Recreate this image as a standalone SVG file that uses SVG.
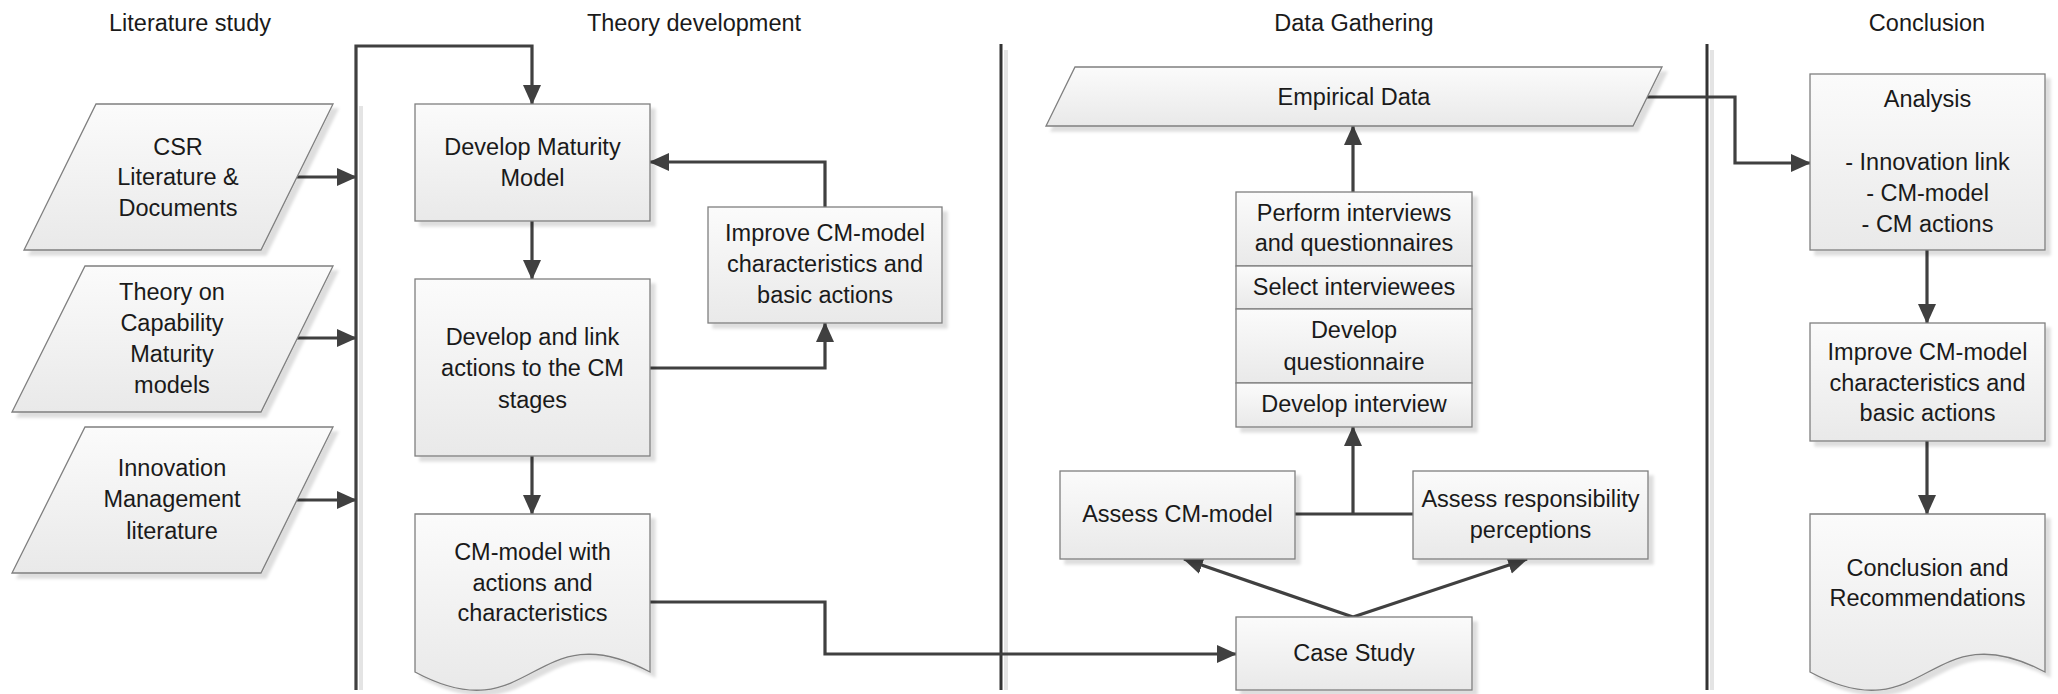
<svg xmlns="http://www.w3.org/2000/svg" width="2058" height="694" viewBox="0 0 2058 694">
<style>
  .t { font-family: "Liberation Sans", Arial, sans-serif; font-size: 23.5px; fill: #1a1a1a; text-anchor: middle; }
  .shape { fill: url(#g); stroke: #7f7f7f; stroke-width: 1.3; filter: url(#sh); }
  .cell { fill: url(#g); stroke: #7f7f7f; stroke-width: 1.3; }
  .conn { fill: none; stroke: #404040; stroke-width: 3.2; stroke-linejoin: miter; }
  .arr { marker-end: url(#ah); }
  .lane { stroke: #333333; stroke-width: 3; fill: none; }
  .laneshadow { stroke: #e4e4e4; stroke-width: 4; fill: none; }
</style>
<defs>
  <linearGradient id="g" x1="0" y1="0" x2="0" y2="1">
    <stop offset="0" stop-color="#fbfbfb"/>
    <stop offset="1" stop-color="#e9e9e9"/>
  </linearGradient>
  <filter id="sh" x="-10%" y="-10%" width="130%" height="130%">
    <feDropShadow dx="5" dy="5" stdDeviation="1.5" flood-color="#000000" flood-opacity="0.13"/>
  </filter>
  <marker id="ah" viewBox="0 0 20 20" refX="19" refY="10" markerWidth="20" markerHeight="20" markerUnits="userSpaceOnUse" orient="auto">
    <path d="M0,1 L20,10 L0,19 z" fill="#404040"/>
  </marker>
</defs>

<g id="titles">
  <text class="t" x="190" y="31">Literature study</text>
  <text class="t" x="694" y="31">Theory development</text>
  <text class="t" x="1354" y="31">Data Gathering</text>
  <text class="t" x="1927" y="31">Conclusion</text>
</g>

<g id="lanes">
  <line class="laneshadow" x1="1006" y1="50" x2="1006" y2="690"/>
  <line class="laneshadow" x1="1712" y1="50" x2="1712" y2="690"/>
  <line class="laneshadow" x1="361" y1="106" x2="361" y2="690"/>
  <line class="lane" x1="1001" y1="44" x2="1001" y2="690"/>
  <line class="lane" x1="1707" y1="44" x2="1707" y2="690"/>
</g>

<g id="connectors">
  <path class="conn arr" d="M356,690 V46 H532 V104"/>
  <path class="conn arr" d="M297,177 H356"/>
  <path class="conn arr" d="M297,338 H356"/>
  <path class="conn arr" d="M297,500 H356"/>
  <path class="conn arr" d="M532,221 V279"/>
  <path class="conn arr" d="M532,456 V514"/>
  <path class="conn arr" d="M650,368 H825 V323"/>
  <path class="conn arr" d="M825,207 V162 H650"/>
  <path class="conn arr" d="M650,602 H825 V654 H1236"/>
  <path class="conn arr" d="M1353,617 L1184,559"/>
  <path class="conn arr" d="M1353,617 L1527,559"/>
  <path class="conn" d="M1295,514 H1413"/>
  <path class="conn arr" d="M1353,514 V427"/>
  <path class="conn arr" d="M1353,192 V126"/>
  <path class="conn arr" d="M1647,97 H1735 V163 H1810"/>
  <path class="conn arr" d="M1927,250 V323"/>
  <path class="conn arr" d="M1927,441 V514"/>
</g>

<g id="csr">
  <polygon class="shape" points="96,104 333,104 261,250 24,250"/>
  <text class="t" x="178" y="155">CSR</text>
  <text class="t" x="178" y="185">Literature &amp;</text>
  <text class="t" x="178" y="216">Documents</text>
</g>

<g id="theory-cm">
  <polygon class="shape" points="85,266 333,266 261,412 12,412"/>
  <text class="t" x="172" y="300">Theory on</text>
  <text class="t" x="172" y="331">Capability</text>
  <text class="t" x="172" y="362">Maturity</text>
  <text class="t" x="172" y="393">models</text>
</g>

<g id="innovation">
  <polygon class="shape" points="85,427 333,427 261,573 12,573"/>
  <text class="t" x="172" y="476">Innovation</text>
  <text class="t" x="172" y="507">Management</text>
  <text class="t" x="172" y="539">literature</text>
</g>

<g id="develop-maturity-model">
  <rect class="shape" x="415" y="104" width="235" height="117"/>
  <text class="t" x="532.5" y="155">Develop Maturity</text>
  <text class="t" x="532.5" y="186">Model</text>
</g>

<g id="develop-link-actions">
  <rect class="shape" x="415" y="279" width="235" height="177"/>
  <text class="t" x="532.5" y="345">Develop and link</text>
  <text class="t" x="532.5" y="376">actions to the CM</text>
  <text class="t" x="532.5" y="408">stages</text>
</g>

<g id="cm-model-doc">
  <path class="shape" d="M415,514 H650 V672 C532.5,610 532.5,735 415,672 Z"/>
  <text class="t" x="532.5" y="560">CM-model with</text>
  <text class="t" x="532.5" y="591">actions and</text>
  <text class="t" x="532.5" y="621">characteristics</text>
</g>

<g id="improve-theory">
  <rect class="shape" x="708" y="207" width="234" height="116"/>
  <text class="t" x="825" y="241">Improve CM-model</text>
  <text class="t" x="825" y="272">characteristics and</text>
  <text class="t" x="825" y="303">basic actions</text>
</g>

<g id="empirical-data">
  <polygon class="shape" points="1075,67 1662,67 1633,126 1046,126"/>
  <text class="t" x="1354" y="105">Empirical Data</text>
</g>

<g id="interview-stack">
  <g filter="url(#sh)">
    <rect class="cell" x="1236" y="192" width="236" height="74"/>
    <rect class="cell" x="1236" y="266" width="236" height="43"/>
    <rect class="cell" x="1236" y="309" width="236" height="74"/>
    <rect class="cell" x="1236" y="383" width="236" height="44"/>
  </g>
  <text class="t" x="1354" y="221">Perform interviews</text>
  <text class="t" x="1354" y="251">and questionnaires</text>
  <text class="t" x="1354" y="295">Select interviewees</text>
  <text class="t" x="1354" y="338">Develop</text>
  <text class="t" x="1354" y="370">questionnaire</text>
  <text class="t" x="1354" y="412">Develop interview</text>
</g>

<g id="assess-cm-model">
  <rect class="shape" x="1060" y="471" width="235" height="88"/>
  <text class="t" x="1177.5" y="522">Assess CM-model</text>
</g>

<g id="assess-responsibility">
  <rect class="shape" x="1413" y="471" width="235" height="88"/>
  <text class="t" x="1530.5" y="507">Assess responsibility</text>
  <text class="t" x="1530.5" y="538">perceptions</text>
</g>

<g id="case-study">
  <rect class="shape" x="1236" y="617" width="236" height="73"/>
  <text class="t" x="1354" y="661">Case Study</text>
</g>

<g id="analysis">
  <rect class="shape" x="1810" y="74" width="235" height="176"/>
  <text class="t" x="1927.5" y="107">Analysis</text>
  <text class="t" x="1927.5" y="170">- Innovation link</text>
  <text class="t" x="1927.5" y="201">- CM-model</text>
  <text class="t" x="1927.5" y="232">- CM actions</text>
</g>

<g id="improve-conclusion">
  <rect class="shape" x="1810" y="323" width="235" height="118"/>
  <text class="t" x="1927.5" y="360">Improve CM-model</text>
  <text class="t" x="1927.5" y="391">characteristics and</text>
  <text class="t" x="1927.5" y="421">basic actions</text>
</g>

<g id="conclusion-doc">
  <path class="shape" d="M1810,514 H2045 V672 C1927.5,610 1927.5,735 1810,672 Z"/>
  <text class="t" x="1927.5" y="576">Conclusion and</text>
  <text class="t" x="1927.5" y="606">Recommendations</text>
</g>
</svg>
